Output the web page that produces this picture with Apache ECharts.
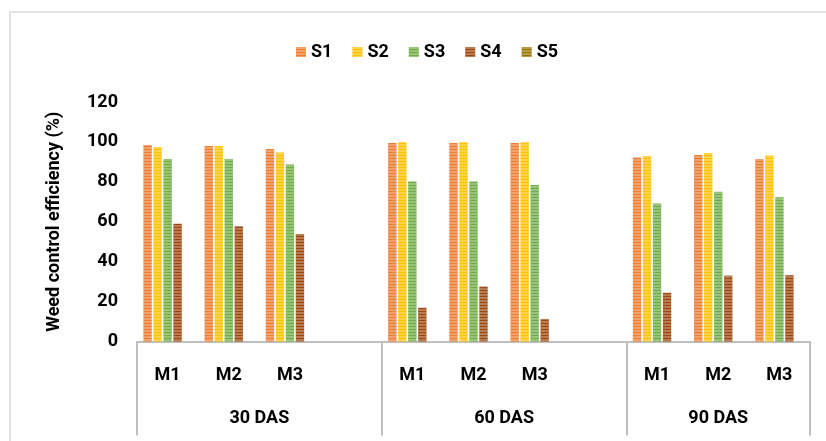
<!DOCTYPE html>
<html>
<head>
<meta charset="utf-8">
<script src="https://cdn.jsdelivr.net/npm/echarts@6/dist/echarts.min.js"></script>
<style>
html, body { margin: 0; padding: 0; background: #fff; }
#chart { width: 826px; height: 441px; }
</style>
</head>
<body>
<div id="chart"></div>
<script>
// categories: 4 slots for 30 and 60 DAS (last one blank), 3 for 90 DAS
var categories = ['M1', 'M2', 'M3', '', 'M1', 'M2', 'M3', '', 'M1', 'M2', 'M3'];
var groupNames = ['30 DAS', '60 DAS', '90 DAS'];
var groupCenters = [2, 6, 9.5];
var groupEdges = [0, 4, 8, 11];

var s1 = [98.5, 98, 96.5, null, 99.5, 99.5, 99.5, null, 92.2, 93.5, 91.5];
var s2 = [97.5, 98, 94.7, null, 99.8, 99.8, 99.8, null, 92.9, 94.5, 93.2];
var s3 = [91.5, 91.5, 88.7, null, 80.2, 80.2, 78.4, null, 69.2, 75, 72.3];
var s4 = [59, 57.7, 53.9, null, 16.9, 27.5, 11.3, null, 24.4, 33, 33.2];
var s5 = [0, 0, 0, null, 0, 0, 0, null, 0, 0, 0];

var seriesNames = ['S1', 'S2', 'S3', 'S4', 'S5'];
var seriesData = [s1, s2, s3, s4, s5];
var colors = ['#ED7D31', '#FFC000', '#70AD47', '#9E480E', '#997300'];

var font = 'Roboto, "Liberation Sans", sans-serif';

var chart = echarts.init(document.getElementById('chart'));

var series = seriesNames.map(function (name, i) {
    return {
        name: name,
        type: 'bar',
        data: seriesData[i],
        barGap: '20%',
        barCategoryGap: '21%',
        itemStyle: {
            color: colors[i],
            decal: {
                symbol: 'rect',
                symbolSize: 1,
                dashArrayX: [[1, 0]],
                dashArrayY: [2, 1],
                rotation: 0,
                color: 'rgba(255,255,255,0.28)'
            }
        }
    };
});

var option = {
    animation: false,
    color: colors,
    textStyle: { fontFamily: font },
    legend: {
        top: 38,
        left: 291,
        itemWidth: 10,
        itemHeight: 10,
        itemGap: 20,
        icon: 'rect',
        data: seriesNames,
        textStyle: { fontSize: 18, fontWeight: 'bold', color: '#000', fontFamily: font }
    },
    grid: { left: 137, right: 16, top: 102, bottom: 99.5 },
    xAxis: [{
        type: 'category',
        data: categories,
        axisLine: { lineStyle: { color: '#bfbfbf', width: 2 } },
        axisTick: { show: false },
        axisLabel: { margin: 25, fontSize: 18, fontWeight: 'bold', color: '#000', fontFamily: font }
    }, {
        type: 'value',
        position: 'bottom',
        offset: 0,
        min: 0,
        max: 11,
        splitLine: { show: false },
        axisLine: { show: false },
        axisTick: {
            show: true,
            customValues: groupEdges,
            length: 94,
            lineStyle: { color: '#bfbfbf', width: 2 }
        },
        axisLabel: {
            customValues: groupCenters,
            margin: 68,
            fontSize: 18,
            fontWeight: 'bold',
            color: '#000',
            fontFamily: font,
            formatter: function (v) {
                return groupNames[groupCenters.indexOf(v)];
            }
        }
    }],
    yAxis: {
        type: 'value',
        min: 0,
        max: 120,
        interval: 20,
        name: 'Weed control efficiency (%)',
        nameLocation: 'middle',
        nameGap: 74,
        nameTextStyle: { fontSize: 18, fontWeight: 'bold', color: '#000', fontFamily: font },
        splitLine: { show: false },
        axisLine: { show: false },
        axisTick: { show: false },
        axisLabel: { margin: 19, fontSize: 18, fontWeight: 'bold', color: '#000', fontFamily: font }
    },
    graphic: [{
        type: 'rect',
        silent: true,
        shape: { x: 10, y: 12, width: 830, height: 440 },
        style: { fill: 'none', stroke: '#d9d9d9', lineWidth: 1.5 }
    }],
    series: series
};

chart.setOption(option);
</script>
</body>
</html>
